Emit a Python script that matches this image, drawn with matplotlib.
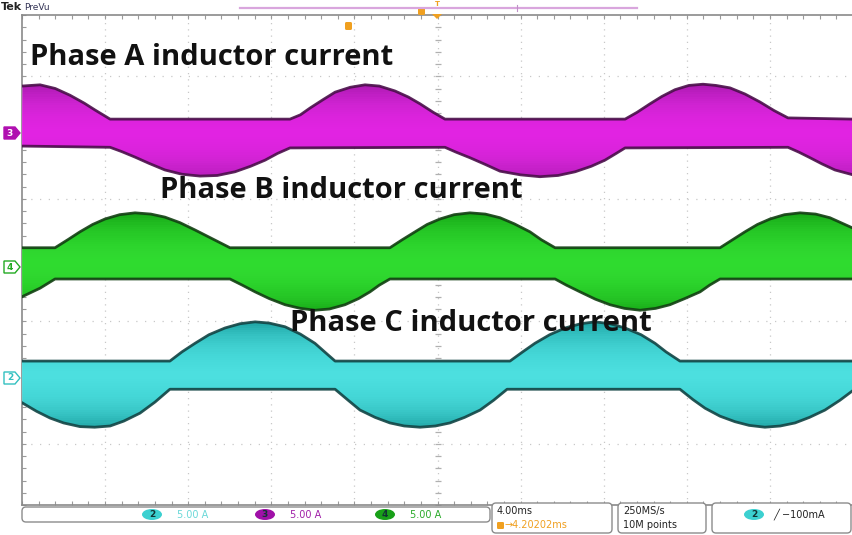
import numpy as np
import matplotlib
matplotlib.use("Agg")
import matplotlib.pyplot as plt
from matplotlib.patches import FancyBboxPatch, Polygon, Ellipse

# ---------------- data (time in ms, 4 ms/div; level in screen divisions) -------------
# Phase A (channel 3, magenta)
a_up_t = [0.0, 0.87, 1.6, 2.31, 3.0, 3.51, 4.24, 12.90, 13.4, 13.86, 14.5, 15.07, 15.8,
          16.51, 17.2, 17.95, 18.6, 19.16, 19.8, 20.36,
          29.03, 29.6, 30.23, 30.8, 31.43, 32.1, 32.78, 33.4, 34.08, 34.8, 35.52, 36.2,
          36.87, 40.0]
a_up_v = [2.84, 2.86, 2.80, 2.69, 2.56, 2.45, 2.30, 2.30, 2.37, 2.48, 2.62, 2.74, 2.82,
          2.86, 2.84, 2.76, 2.66, 2.55, 2.41, 2.30,
          2.30, 2.41, 2.55, 2.67, 2.78, 2.85, 2.87, 2.85, 2.81, 2.71, 2.58, 2.44,
          2.32, 2.30]
a_lo_t = [0.0, 4.24, 4.8, 5.44, 6.1, 6.88, 7.7, 8.57, 9.4, 10.25, 11.0, 11.70, 12.3,
          12.90, 20.36, 20.9, 21.56, 22.3, 23.01, 24.0, 24.93, 25.8, 26.62, 27.4, 28.06,
          28.6, 29.03, 36.87, 37.4, 37.93, 38.5, 39.13, 40.0]
a_lo_v = [1.86, 1.84, 1.77, 1.68, 1.58, 1.47, 1.40, 1.37, 1.38, 1.44, 1.53, 1.63, 1.74,
          1.83, 1.84, 1.76, 1.67, 1.56, 1.45, 1.39, 1.36, 1.38, 1.44, 1.53, 1.63,
          1.74, 1.83, 1.84, 1.76, 1.67, 1.57, 1.47, 1.39]

# Phase B (channel 4, green)
b_up_t = [0.0, 1.59, 2.2, 2.79, 3.4, 4.00, 4.7, 5.44, 6.2, 6.88, 7.6, 8.33, 9.2, 10.01,
          17.71, 18.3, 18.92, 19.5, 20.12, 20.8, 21.56, 22.3, 23.01, 23.7, 24.45, 25.0,
          25.66, 33.60, 34.2, 34.80, 35.4, 36.01, 36.7, 37.45, 38.2, 38.89, 40.0]
b_up_v = [0.20, 0.20, 0.33, 0.46, 0.58, 0.67, 0.74, 0.77, 0.75, 0.70, 0.61, 0.49, 0.34,
          0.20, 0.20, 0.33, 0.46, 0.58, 0.67, 0.74, 0.77, 0.75, 0.69, 0.59, 0.46, 0.33,
          0.20, 0.20, 0.33, 0.46, 0.58, 0.67, 0.74, 0.77, 0.75, 0.69, 0.52]
b_lo_t = [0.0, 0.87, 1.59, 10.01, 10.6, 11.22, 11.9, 12.66, 13.4, 14.10, 14.8, 15.55,
          16.2, 16.75, 17.2, 17.71, 25.66, 26.2, 26.86, 27.6, 28.30, 29.0, 29.75, 30.5,
          31.19, 31.9, 32.64, 33.1, 33.60, 40.0]
b_lo_v = [-0.60, -0.46, -0.31, -0.31, -0.41, -0.52, -0.63, -0.73, -0.79, -0.82, -0.80,
          -0.73, -0.63, -0.52, -0.41, -0.31, -0.31, -0.41, -0.52, -0.64, -0.73, -0.79,
          -0.82, -0.79, -0.73, -0.63, -0.52, -0.41, -0.31, -0.31]

# Phase C (channel 2, cyan)
c_up_t = [0.0, 7.12, 7.7, 8.33, 9.0, 9.77, 10.5, 11.22, 11.9, 12.66, 13.4, 14.10, 14.6,
          15.07, 23.49, 24.1, 24.69, 25.4, 26.14, 26.9, 27.58, 28.3, 29.03, 29.8, 30.47,
          31.0, 31.67, 40.0]
c_up_v = [-1.65, -1.65, -1.50, -1.36, -1.22, -1.11, -1.04, -1.01, -1.03, -1.09, -1.21,
          -1.36, -1.51, -1.65, -1.65, -1.50, -1.36, -1.22, -1.11, -1.04, -1.01, -1.04,
          -1.11, -1.22, -1.36, -1.50, -1.65, -1.65]
c_lo_t = [0.0, 0.7, 1.35, 2.0, 2.79, 3.5, 4.24, 4.9, 5.68, 6.4, 7.12, 15.07, 15.7, 16.27,
          17.0, 17.71, 18.4, 19.16, 19.9, 20.60, 21.3, 22.05, 22.7, 23.35, 31.67, 32.3,
          32.88, 33.6, 34.32, 35.0, 35.76, 36.5, 37.21, 37.9, 38.65, 39.37, 40.0]
c_lo_v = [-2.33, -2.47, -2.58, -2.66, -2.72, -2.73, -2.71, -2.63, -2.50, -2.32, -2.11,
          -2.11, -2.29, -2.45, -2.57, -2.66, -2.71, -2.73, -2.71, -2.66, -2.57, -2.45,
          -2.29, -2.11, -2.11, -2.28, -2.42, -2.55, -2.64, -2.70, -2.73, -2.71, -2.66,
          -2.57, -2.45, -2.29, -2.13]

labels = ["Phase A inductor current", "Phase B inductor current", "Phase C inductor current"]
label_pos = [(0.39, 3.31), (6.64, 1.14), (12.90, -1.04)]

status_scales = ["5.00 A", "5.00 A", "5.00 A"]
status_channels = ["2", "3", "4"]
timebase = "4.00ms"
trig_pos = "4.20202ms"
sample_rate = "250MS/s"
record_len = "10M points"
trig_level = "\u2212100mA"

# ---------------- figure ----------------
W, H = 853, 535
fig = plt.figure(figsize=(W / 100, H / 100), dpi=100)
fig.patch.set_facecolor("white")

L, R, T, B = 22, 853, 15, 505
ax = fig.add_axes([L / W, (H - B) / H, (R - L) / W, (B - T) / H])
ax.set_xlim(0, 40)
ax.set_ylim(-4, 4)
ax.set_facecolor("white")

# grid
grid_c = "#c8c8c8"
for xv in np.arange(4, 40, 4):
    ax.axvline(xv, color=grid_c, lw=0.9, ls=(0, (1, 4)), zorder=0)
for yv in np.arange(-3, 4, 1):
    ax.axhline(yv, color=grid_c, lw=0.9, ls=(0, (1, 6)), zorder=0)
# center cross ticks
minor_x = np.arange(0, 40.01, 0.8)
minor_y = np.arange(-4, 4.01, 0.2)
ax.plot(np.full_like(minor_y, 20.0), minor_y, ls="none", marker="_", ms=5,
        color="#b0b0b0", mew=0.9, zorder=0)
ax.plot(minor_x, np.zeros_like(minor_x), ls="none", marker="|", ms=5,
        color="#b0b0b0", mew=0.9, zorder=0)

ax.spines["right"].set_visible(False)
for s in ["left", "top", "bottom"]:
    ax.spines[s].set_color("#8a8a8a")
    ax.spines[s].set_linewidth(1.2)
ax.set_xticks(np.arange(0, 40.01, 0.8))
ax.set_yticks(np.arange(-4, 4.01, 0.2))
ax.tick_params(direction="in", length=3, width=0.8, color="#9a9a9a",
               labelbottom=False, labelleft=False, top=True, bottom=True, left=True, right=False)


def band(up_t, up_v, lo_t, lo_v, outer, core, edge, center):
    pts = list(zip(up_t, up_v)) + list(zip(lo_t[::-1], lo_v[::-1]))
    poly = Polygon(pts, closed=True, facecolor=outer, edgecolor="none", zorder=2)
    ax.add_patch(poly)
    n = 24
    for k in range(n):
        hw = 0.85 * (1 - k / n) + 0.03
        sp = ax.axhspan(center - hw, center + hw, color=core, alpha=0.085, lw=0, zorder=3)
        sp.set_clip_path(poly)
    ax.plot(up_t, up_v, color=edge, lw=2.0, zorder=4, solid_joinstyle="round", alpha=0.9)
    ax.plot(lo_t, lo_v, color=edge, lw=2.0, zorder=4, solid_joinstyle="round", alpha=0.9)


band(a_up_t, a_up_v, a_lo_t, a_lo_v, "#94169c", "#f22ef2", "#4a0f4a", 2.07)
band(b_up_t, b_up_v, b_lo_t, b_lo_v, "#0f960f", "#3aea3a", "#123f12", -0.055)
band(c_up_t, c_up_v, c_lo_t, c_lo_v, "#199e9e", "#58eeee", "#124444", -1.88)

for txt, (tx, ty) in zip(labels, label_pos):
    ax.text(tx, ty, txt, fontsize=21, fontweight="bold", family="Open Sans",
            color="#111111", va="center", ha="left", zorder=10)

# ---------------- overlay (screen furniture) ----------------
ov = fig.add_axes([0, 0, 1, 1], zorder=5)
ov.set_xlim(0, W)
ov.set_ylim(H, 0)
ov.axis("off")
ov.patch.set_alpha(0)

ov.text(1, 7, "Tek", fontsize=8, fontweight="bold", color="#222222", va="center", ha="left")
ov.text(24, 7, "PreVu", fontsize=6.5, color="#333355", va="center", ha="left")
ov.plot([240, 637], [8, 8], color="#d9a6dd", lw=1.6)
ov.plot([517, 517], [5, 11], color="#c090c8", lw=0.8)
ov.add_patch(FancyBboxPatch((418, 8), 7, 7, boxstyle="round,pad=0,rounding_size=1.5",
                            fc="#f0a020", ec="none"))
ov.text(437, 4, "T", fontsize=5, color="#f0a020", ha="center", va="center", fontweight="bold")
ov.add_patch(Polygon([(432, 14), (442, 14), (437, 19)], closed=True, fc="#f0a020", ec="none"))
ov.add_patch(FancyBboxPatch((345, 22), 7, 8, boxstyle="round,pad=0,rounding_size=1.5",
                            fc="#f0a020", ec="none"))

# channel markers
def chan_marker(y, col, num, filled):
    pts = [(4, y - 6), (15, y - 6), (20, y), (15, y + 6), (4, y + 6)]
    ov.add_patch(Polygon(pts, closed=True, fc=col if filled else "white", ec=col, lw=1.0))
    ov.text(10, y, num, fontsize=6.5, color="white" if filled else col,
            ha="center", va="center", fontweight="bold")

chan_marker(133, "#b010b0", "3", True)
chan_marker(267, "#22aa22", "4", False)
chan_marker(378, "#33c0c0", "2", False)

# status bar
def rbox(x0, y0, x1, y1):
    ov.add_patch(FancyBboxPatch((x0, y0), x1 - x0, y1 - y0,
                                boxstyle="round,pad=0,rounding_size=4",
                                fc="white", ec="#8c8c8c", lw=1.0))

rbox(22, 507, 490, 522)
rbox(492, 503, 612, 533)
rbox(618, 503, 706, 533)
rbox(712, 503, 851, 533)

ch_cols = ["#3cd0d0", "#a010a8", "#18a018"]
txt_cols = ["#6ad8d8", "#a020a8", "#2aaa2a"]
for xc, num, oc, tc, sc in zip([152, 265, 385], status_channels, ch_cols, txt_cols, status_scales):
    ov.add_patch(Ellipse((xc, 514.5), 20, 11, fc=oc, ec="none"))
    ov.text(xc, 514.5, num, fontsize=6.5, color="#113333", ha="center", va="center",
            fontweight="bold")
    ov.text(xc + 25, 514.5, sc, fontsize=7, color=tc, ha="left", va="center")

ov.text(497, 511, timebase, fontsize=7, color="#222222", ha="left", va="center")
ov.add_patch(FancyBboxPatch((497, 522), 7, 7, boxstyle="round,pad=0,rounding_size=1.2",
                            fc="#f0a020", ec="none"))
ov.text(505, 525.5, "\u2192" + trig_pos, fontsize=7, color="#f0a020", ha="left", va="center")
ov.text(623, 511, sample_rate, fontsize=7, color="#222222", ha="left", va="center")
ov.text(623, 525.5, record_len, fontsize=7, color="#222222", ha="left", va="center")
ov.add_patch(Ellipse((754, 514.5), 20, 11, fc="#3cd0d0", ec="none"))
ov.text(754, 514.5, "2", fontsize=6.5, color="#113333", ha="center", va="center",
        fontweight="bold")
ov.text(773, 514.5, "\u2571 " + trig_level, fontsize=7, color="#222222", ha="left", va="center")

fig.savefig("out.png", dpi=100, facecolor="white")
